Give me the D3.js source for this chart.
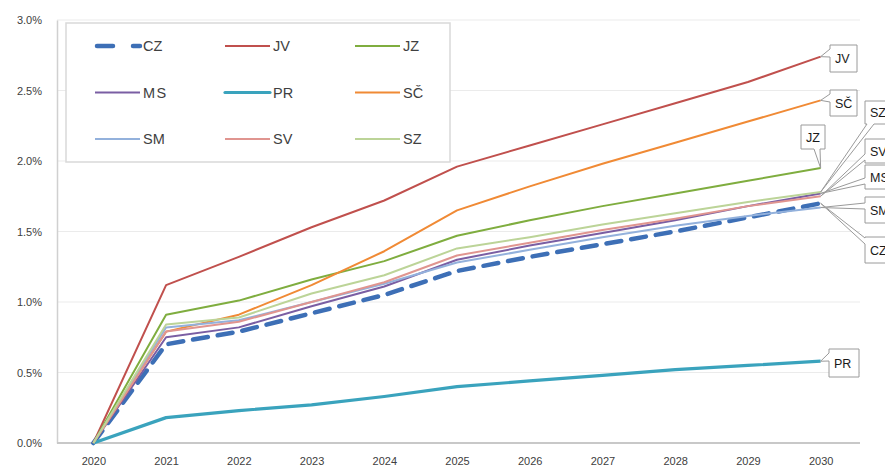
<!DOCTYPE html>
<html>
<head>
<meta charset="utf-8">
<script src="https://cdn.jsdelivr.net/npm/d3@7"></script>
<style>
  body { margin: 0; background: #fff; }
  svg { font-family: "Liberation Sans", Arial, sans-serif; }
</style>
</head>
<body>
<svg id="chart" width="885" height="467"></svg>
<script>
// years on the x axis
var years = [2020, 2021, 2022, 2023, 2024, 2025, 2026, 2027, 2028, 2029, 2030];

// values in percent
var CZ = [0, 0.70, 0.79, 0.92, 1.05, 1.22, 1.32, 1.41, 1.50, 1.60, 1.70];
var JV = [0, 1.12, 1.32, 1.53, 1.72, 1.96, 2.11, 2.26, 2.41, 2.56, 2.74];
var JZ = [0, 0.91, 1.01, 1.16, 1.29, 1.47, 1.58, 1.68, 1.77, 1.86, 1.95];
var MS = [0, 0.75, 0.82, 0.97, 1.11, 1.30, 1.40, 1.49, 1.58, 1.68, 1.77];
var PR = [0, 0.18, 0.23, 0.27, 0.33, 0.40, 0.44, 0.48, 0.52, 0.55, 0.58];
var SC = [0, 0.79, 0.91, 1.12, 1.36, 1.65, 1.82, 1.98, 2.13, 2.28, 2.43];
var SM = [0, 0.82, 0.87, 1.00, 1.13, 1.28, 1.37, 1.46, 1.54, 1.61, 1.67];
var SV = [0, 0.79, 0.86, 1.00, 1.14, 1.33, 1.42, 1.51, 1.59, 1.68, 1.75];
var SZ = [0, 0.84, 0.89, 1.06, 1.19, 1.38, 1.46, 1.55, 1.63, 1.71, 1.78];

var seriesNames = ["CZ", "JV", "JZ", "MS", "PR", "SČ", "SM", "SV", "SZ"];
var seriesValues = [CZ, JV, JZ, MS, PR, SC, SM, SV, SZ];

var yTicks = [0, 0.5, 1.0, 1.5, 2.0, 2.5, 3.0];

// styles
var colors = {
    "CZ": "#3d6fb6", "JV": "#c0504d", "JZ": "#7fad3f", "MS": "#7a5ea3", "PR": "#3aa3bd",
    "SČ": "#f08a35", "SM": "#93b1dc", "SV": "#e09590", "SZ": "#bcd498"
};
var widths = { "CZ": 4.5, "PR": 3.2 };

var svg = d3.select("#chart");

var x = d3.scalePoint()
    .domain(years)
    .range([57, 857])
    .padding(0.5);

var y = d3.scaleLinear()
    .domain([0, 3])
    .range([443, 20]);

// gridlines
svg.append("g")
    .selectAll("line")
    .data(yTicks.slice(1))
    .enter()
    .append("line")
    .attr("x1", 57).attr("x2", 860)
    .attr("y1", function(d){ return y(d) })
    .attr("y2", function(d){ return y(d) })
    .attr("stroke", "#ebebeb")
    .attr("stroke-width", 1);

// y axis
var yAxis = svg.append("g")
    .attr("transform", "translate(57,0)")
    .call(d3.axisLeft(y).tickValues(yTicks).tickSize(0).tickPadding(15)
        .tickFormat(function(d){ return d3.format(".1f")(d) + "%" }));
yAxis.select(".domain").attr("stroke", "#d0d0d0").attr("stroke-width", 1.5);
yAxis.selectAll("text").attr("font-size", 11).attr("fill", "#404040")
    .attr("font-family", "Liberation Sans, Arial, sans-serif");

// x axis
var xAxis = svg.append("g")
    .attr("transform", "translate(0,443)")
    .call(d3.axisBottom(x).tickSize(0).tickPadding(14));
xAxis.select(".domain").attr("d", "M57,0H860").attr("stroke", "#c8c8c8").attr("stroke-width", 2);
xAxis.selectAll("text").attr("font-size", 11).attr("fill", "#404040")
    .attr("font-family", "Liberation Sans, Arial, sans-serif");

// lines
var line = d3.line()
    .x(function(d, i){ return x(years[i]) })
    .y(function(d){ return y(d) });

var drawOrder = ["CZ", "JV", "JZ", "MS", "PR", "SČ", "SM", "SV", "SZ"];
svg.append("g")
    .selectAll("path")
    .data(drawOrder)
    .enter()
    .append("path")
    .attr("d", function(n){ return line(seriesValues[seriesNames.indexOf(n)]) })
    .attr("fill", "none")
    .attr("stroke", function(n){ return colors[n] })
    .attr("stroke-width", function(n){ return widths[n] || 2 })
    .attr("stroke-dasharray", function(n){ return n == "CZ" ? "15,10" : null })
    .attr("stroke-linecap", function(n){ return n == "CZ" ? "round" : "butt" })
    .attr("stroke-linejoin", "round");

// legend
var legend = svg.append("g");
legend.append("rect")
    .attr("x", 66).attr("y", 23).attr("width", 384).attr("height", 139)
    .attr("fill", "#fff").attr("stroke", "#d9d9d9").attr("stroke-width", 1.5);

var legendItems = legend.selectAll("g")
    .data(seriesNames)
    .enter()
    .append("g")
    .attr("transform", function(d, i){
        return "translate(" + (95 + (i % 3) * 130) + "," + (46 + Math.floor(i / 3) * 46.5) + ")";
    });
legendItems.append("line")
    .attr("x1", function(d){ return d == "CZ" ? 2 : 0 })
    .attr("x2", 45)
    .attr("stroke", function(d){ return colors[d] })
    .attr("stroke-width", function(d){ return widths[d] || 2 })
    .attr("stroke-dasharray", function(d){ return d == "CZ" ? "16,20" : null })
    .attr("stroke-linecap", function(d){ return d == "CZ" || d == "PR" ? "round" : "butt" });
legendItems.append("text")
    .attr("x", 48).attr("y", 5)
    .attr("font-size", 14.5)
    .attr("fill", "#404040")
    .attr("letter-spacing", function(d){ return d == "MS" ? 1.5 : 0 })
    .text(function(d){ return d });

// data callouts at 2030
var callouts = [
    { name: "JV", bx: 830, by: 45, bw: 27, bh: 27, edge: "left", a: 4, b: 12 },
    { name: "SČ", bx: 830, by: 90, bw: 27, bh: 26, edge: "left", a: 4, b: 12 },
    { name: "JZ", bx: 801, by: 125, bw: 24, bh: 24, edge: "bottom", a: 13, b: 19 },
    { name: "PR", bx: 829, by: 349, bw: 30, bh: 28, edge: "left", a: 4, b: 12 },
    { name: "SZ", bx: 865, by: 101, bw: 30, bh: 23, edge: "bottom", a: 2, b: 9 },
    { name: "SV", bx: 865, by: 139, bw: 30, bh: 24, edge: "left", a: 15, b: 21 },
    { name: "MS", bx: 865, by: 165, bw: 30, bh: 24, edge: "left", a: 13, b: 19 },
    { name: "SM", bx: 865, by: 197, bw: 30, bh: 26, edge: "left", a: 6, b: 12 },
    { name: "CZ", bx: 865, by: 237, bw: 30, bh: 26, edge: "left", a: 1, b: 7 }
];

function calloutPath(c) {
    var vals = seriesValues[seriesNames.indexOf(c.name)];
    var ax = x(years[years.length - 1]), ay = y(vals[vals.length - 1]);
    var p = d3.path();
    p.moveTo(c.bx, c.by);
    p.lineTo(c.bx + c.bw, c.by);
    p.lineTo(c.bx + c.bw, c.by + c.bh);
    if (c.edge == "bottom") {
        p.lineTo(c.bx + c.b, c.by + c.bh);
        p.lineTo(ax, ay);
        p.lineTo(c.bx + c.a, c.by + c.bh);
        p.lineTo(c.bx, c.by + c.bh);
    } else {
        p.lineTo(c.bx, c.by + c.bh);
        p.lineTo(c.bx, c.by + c.b);
        p.lineTo(ax, ay);
        p.lineTo(c.bx, c.by + c.a);
    }
    p.closePath();
    return p.toString();
}

var labels = svg.append("g")
    .selectAll("g")
    .data(callouts)
    .enter()
    .append("g");
labels.append("path")
    .attr("d", calloutPath)
    .attr("fill", "#fff")
    .attr("stroke", "#9a9a9a")
    .attr("stroke-width", 1);
labels.append("text")
    .attr("x", function(c){ return c.bx + 5 })
    .attr("y", function(c){ return c.by + c.bh / 2 + 4.5 })
    .attr("font-size", 12.5)
    .attr("fill", "#1a1a1a")
    .text(function(c){ return c.name });
</script>
</body>
</html>
